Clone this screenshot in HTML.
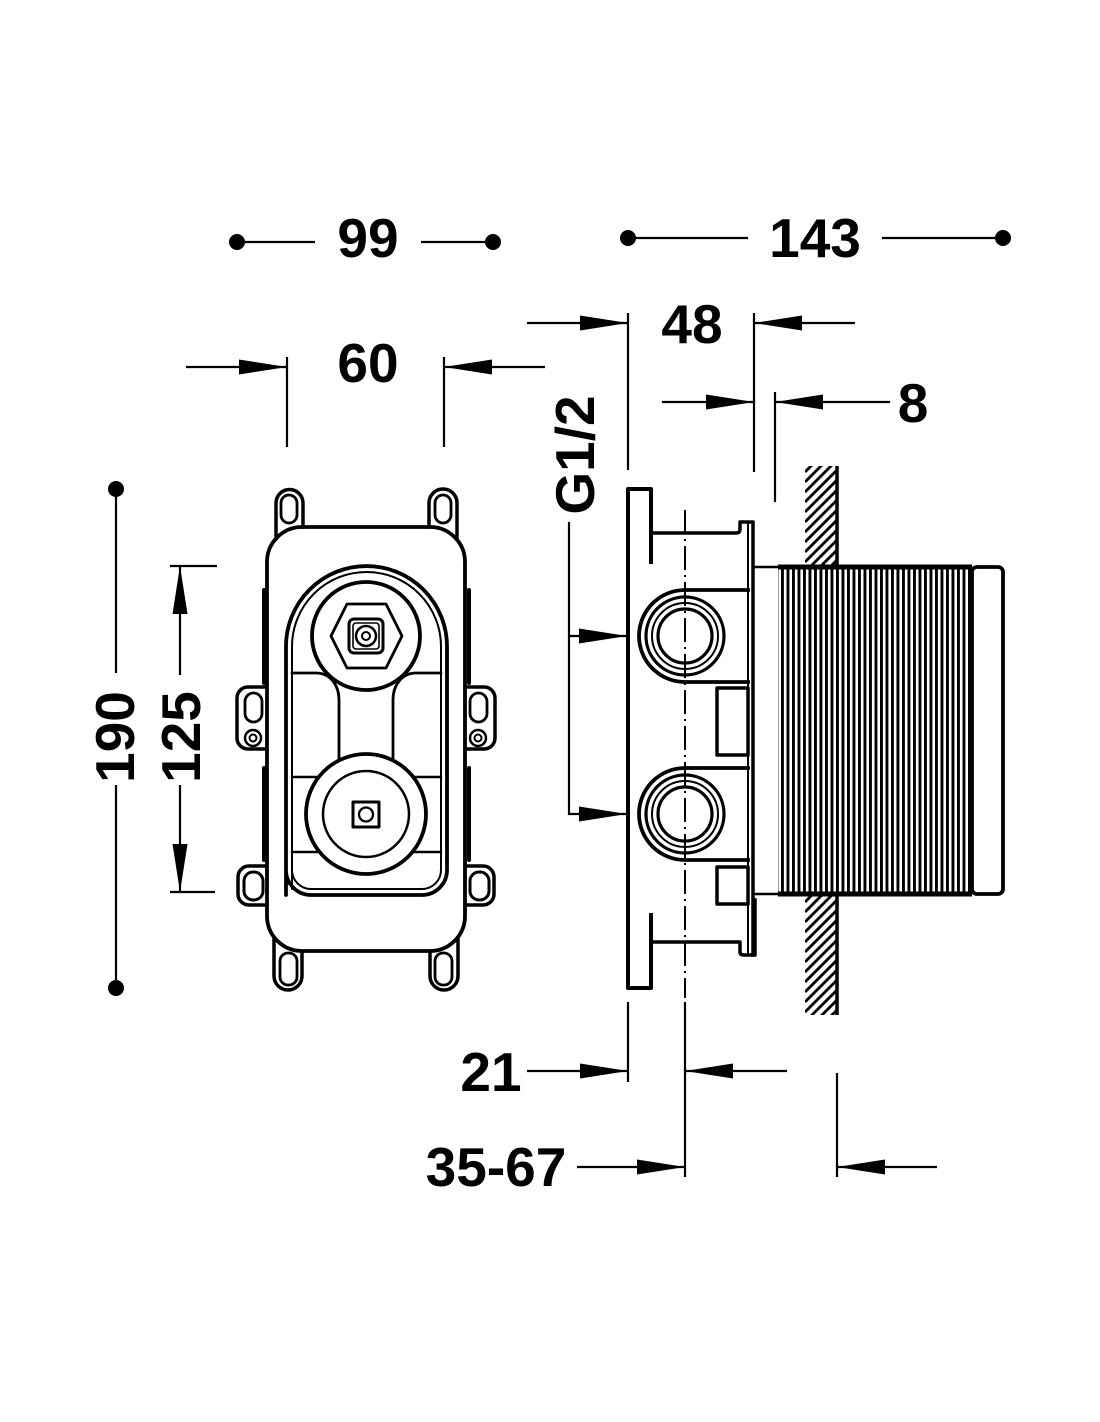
<!DOCTYPE html>
<html>
<head>
<meta charset="utf-8">
<style>
html,body{margin:0;padding:0;background:#fff;}
svg{display:block;}
text{font-family:"Liberation Sans",Arial,sans-serif;font-weight:bold;font-size:55px;fill:#000;}
</style>
</head>
<body>
<svg width="1100" height="1422" viewBox="0 0 1100 1422" xmlns="http://www.w3.org/2000/svg">
<defs>
  <pattern id="thr" x="0" y="0" width="5.5" height="10" patternUnits="userSpaceOnUse">
    <rect x="0" y="0" width="2.9" height="10" fill="#000"/>
  </pattern>
  <clipPath id="hatchTop"><rect x="805" y="466" width="32" height="100"/></clipPath>
  <clipPath id="hatchBot"><rect x="805" y="896" width="32" height="119"/></clipPath>
</defs>

<!-- ============ TOP DIMENSIONS ============ -->
<g stroke="#000" stroke-width="2.2" fill="none">
  <line x1="237" y1="242" x2="315" y2="242"/>
  <line x1="421" y1="242" x2="493" y2="242"/>
  <line x1="628" y1="238" x2="748" y2="238"/>
  <line x1="882" y1="238" x2="1003" y2="238"/>
</g>
<g fill="#000">
  <circle cx="237" cy="242" r="8"/>
  <circle cx="493" cy="242" r="8"/>
  <circle cx="628" cy="238" r="8"/>
  <circle cx="1003" cy="238" r="8"/>
</g>
<text x="368" y="257" text-anchor="middle">99</text>
<text x="815" y="257" text-anchor="middle">143</text>

<!-- 60 -->
<g stroke="#000" stroke-width="2.2" fill="none">
  <line x1="186" y1="367" x2="287" y2="367"/>
  <line x1="444" y1="367" x2="545" y2="367"/>
  <line x1="287" y1="357" x2="287" y2="447"/>
  <line x1="444" y1="357" x2="444" y2="447"/>
</g>
<g fill="#000">
  <polygon points="287,367 239,359.5 239,374.5"/>
  <polygon points="444,367 492,359.5 492,374.5"/>
</g>
<text x="368" y="382" text-anchor="middle">60</text>

<!-- 48 -->
<g stroke="#000" stroke-width="2.2" fill="none">
  <line x1="527" y1="323" x2="628" y2="323"/>
  <line x1="754" y1="323" x2="855" y2="323"/>
  <line x1="628" y1="313" x2="628" y2="470"/>
  <line x1="754" y1="313" x2="754" y2="472"/>
</g>
<g fill="#000">
  <polygon points="628,323 580,315.5 580,330.5"/>
  <polygon points="754,323 802,315.5 802,330.5"/>
</g>
<text x="692" y="343" text-anchor="middle">48</text>

<!-- 8 -->
<g stroke="#000" stroke-width="2.2" fill="none">
  <line x1="662" y1="402" x2="754" y2="402"/>
  <line x1="775" y1="402" x2="890" y2="402"/>
  <line x1="775" y1="392" x2="775" y2="502"/>
</g>
<g fill="#000">
  <polygon points="754,402 706,394.5 706,409.5"/>
  <polygon points="775,402 823,394.5 823,409.5"/>
</g>
<text x="913" y="422" text-anchor="middle">8</text>

<!-- G1/2 -->
<text transform="translate(594,455) rotate(-90)" text-anchor="middle">G1/2</text>
<g stroke="#000" stroke-width="2.2" fill="none">
  <polyline points="569,522 569,814 627,814"/>
  <line x1="569" y1="636" x2="627" y2="636"/>
</g>
<g fill="#000">
  <polygon points="627,636 579,628.5 579,643.5"/>
  <polygon points="627,814 579,806.5 579,821.5"/>
</g>

<!-- ============ LEFT DIMENSIONS ============ -->
<g stroke="#000" stroke-width="2.2" fill="none">
  <line x1="116" y1="489" x2="116" y2="673"/>
  <line x1="116" y1="785" x2="116" y2="988"/>
  <line x1="180" y1="566" x2="180" y2="675"/>
  <line x1="180" y1="785" x2="180" y2="892"/>
  <line x1="170" y1="566" x2="217" y2="566"/>
  <line x1="170" y1="892" x2="215" y2="892"/>
</g>
<g fill="#000">
  <circle cx="116" cy="489" r="8"/>
  <circle cx="116" cy="988" r="8"/>
  <polygon points="180,566 172.5,614 187.5,614"/>
  <polygon points="180,892 172.5,844 187.5,844"/>
</g>
<text transform="translate(134,737) rotate(-90)" text-anchor="middle">190</text>
<text transform="translate(200,737) rotate(-90)" text-anchor="middle">125</text>

<!-- ============ FRONT VIEW ============ -->
<g stroke="#000" fill="#fff" stroke-linejoin="round" stroke-linecap="round">
  <line x1="264" y1="590" x2="264" y2="683" stroke-width="4"/>
  <line x1="264" y1="768" x2="264" y2="860" stroke-width="4"/>
  <line x1="469" y1="590" x2="469" y2="683" stroke-width="4"/>
  <line x1="469" y1="768" x2="469" y2="860" stroke-width="4"/>
  <rect x="237" y="687" width="42" height="62" rx="11" stroke-width="3.5"/>
  <rect x="453" y="687" width="42" height="62" rx="11" stroke-width="3.5"/>
  <rect x="238" y="866" width="40" height="39" rx="11" stroke-width="3.5"/>
  <rect x="454" y="866" width="40" height="39" rx="11" stroke-width="3.5"/>
  <rect x="267" y="527" width="198" height="424" rx="35" stroke-width="3.8"/>
</g>
<g stroke="#000" fill="none" stroke-linejoin="round" stroke-linecap="round">
  <path d="M276,539 L276,503 A13.5,13.5 0 0 1 303,503 L303,527" stroke-width="3.5"/>
  <path d="M429,527 L429,503 A14,14 0 0 1 457,503 L457,540" stroke-width="3.5"/>
  <rect x="281" y="495" width="16" height="28" rx="8" stroke-width="2.8"/>
  <rect x="435" y="495" width="16" height="28" rx="8" stroke-width="2.8"/>
  <path d="M274,937 L274,976 A14,14 0 0 0 302,976 L302,951" stroke-width="3.5"/>
  <path d="M430,951 L430,976 A14,14 0 0 0 458,976 L458,937" stroke-width="3.5"/>
  <rect x="280" y="953" width="17" height="32" rx="8" stroke-width="2.8"/>
  <rect x="435" y="953" width="17" height="32" rx="8" stroke-width="2.8"/>
  <rect x="245" y="693" width="17" height="29" rx="8.5" stroke-width="2.8"/>
  <rect x="470" y="693" width="17" height="29" rx="8.5" stroke-width="2.8"/>
  <circle cx="253" cy="738" r="8" stroke-width="2.5"/>
  <circle cx="253" cy="738" r="3.5" stroke-width="2"/>
  <circle cx="478" cy="738" r="8" stroke-width="2.5"/>
  <circle cx="478" cy="738" r="3.5" stroke-width="2"/>
  <rect x="244" y="872" width="19" height="28" rx="9" stroke-width="3"/>
  <rect x="470" y="872" width="19" height="28" rx="9" stroke-width="3"/>

  <path d="M286,895 L286,646.5 A80.5,80.5 0 0 1 447,646.5 L447,870 A25,25 0 0 1 422,895 L311,895 A25,25 0 0 1 286,870 Z" stroke-width="3.8"/>
  <path d="M292,889 L292,646.5 A74.5,74.5 0 0 1 441,646.5 L441,870 A19,19 0 0 1 422,889 L311,889 A19,19 0 0 1 292,870 Z" stroke-width="2"/>

  <path d="M292,673 L316,673 C330,673 339,685 339,700 L339,762" stroke-width="2.8"/>
  <path d="M441,673 L416,673 C402,673 393,685 393,700 L393,762" stroke-width="2.8"/>
  <line x1="292" y1="777" x2="320" y2="777" stroke-width="2.5"/>
  <line x1="413" y1="777" x2="441" y2="777" stroke-width="2.5"/>
  <line x1="292" y1="852" x2="318" y2="852" stroke-width="2.5"/>
  <line x1="414" y1="852" x2="441" y2="852" stroke-width="2.5"/>
</g>
<g stroke="#000" fill="#fff" stroke-linejoin="round">
  <circle cx="366" cy="636" r="54" stroke-width="3.8"/>
  <polygon points="347,604 386,604 402,636 386,668 347,668 331,636" stroke-width="2.8"/>
  <rect x="349" y="619" width="34" height="34" rx="5" stroke-width="3"/>
  <rect x="353" y="623" width="26" height="26" rx="3" stroke-width="1.6"/>
  <circle cx="366" cy="636" r="10" stroke-width="2.5"/>
  <circle cx="366" cy="636" r="4" stroke-width="2"/>
  <circle cx="366" cy="814" r="60" stroke-width="3.8"/>
  <circle cx="366" cy="814" r="43" stroke-width="2.5"/>
  <rect x="353" y="802" width="26" height="25" stroke-width="3"/>
  <circle cx="366" cy="814.5" r="7" stroke-width="2.3"/>
</g>

<!-- ============ SIDE VIEW ============ -->
<g stroke="#000" stroke-width="2.8" clip-path="url(#hatchTop)">
  <line x1="805" y1="462" x2="837" y2="430"/>
  <line x1="805" y1="472" x2="837" y2="440"/>
  <line x1="805" y1="482" x2="837" y2="450"/>
  <line x1="805" y1="492" x2="837" y2="460"/>
  <line x1="805" y1="502" x2="837" y2="470"/>
  <line x1="805" y1="512" x2="837" y2="480"/>
  <line x1="805" y1="522" x2="837" y2="490"/>
  <line x1="805" y1="532" x2="837" y2="500"/>
  <line x1="805" y1="542" x2="837" y2="510"/>
  <line x1="805" y1="552" x2="837" y2="520"/>
  <line x1="805" y1="562" x2="837" y2="530"/>
  <line x1="805" y1="572" x2="837" y2="540"/>
  <line x1="805" y1="582" x2="837" y2="550"/>
  <line x1="805" y1="592" x2="837" y2="560"/>
</g>
<g stroke="#000" stroke-width="2.8" clip-path="url(#hatchBot)">
  <line x1="805" y1="902" x2="837" y2="870"/>
  <line x1="805" y1="912" x2="837" y2="880"/>
  <line x1="805" y1="922" x2="837" y2="890"/>
  <line x1="805" y1="932" x2="837" y2="900"/>
  <line x1="805" y1="942" x2="837" y2="910"/>
  <line x1="805" y1="952" x2="837" y2="920"/>
  <line x1="805" y1="962" x2="837" y2="930"/>
  <line x1="805" y1="972" x2="837" y2="940"/>
  <line x1="805" y1="982" x2="837" y2="950"/>
  <line x1="805" y1="992" x2="837" y2="960"/>
  <line x1="805" y1="1002" x2="837" y2="970"/>
  <line x1="805" y1="1012" x2="837" y2="980"/>
  <line x1="805" y1="1022" x2="837" y2="990"/>
  <line x1="805" y1="1032" x2="837" y2="1000"/>
  <line x1="805" y1="1042" x2="837" y2="1010"/>
</g>
<g stroke="#000" stroke-width="3.5">
  <line x1="837" y1="466" x2="837" y2="567"/>
  <line x1="837" y1="895" x2="837" y2="1015"/>
</g>

<rect x="778" y="567" width="194" height="327" fill="url(#thr)"/>
<g stroke="#000" fill="none" stroke-linejoin="round">
  <line x1="753" y1="567" x2="778" y2="567" stroke-width="2.5"/>
  <line x1="753" y1="894" x2="778" y2="894" stroke-width="2.5"/>
  <line x1="778" y1="567" x2="972" y2="567" stroke-width="5"/>
  <line x1="778" y1="894" x2="972" y2="894" stroke-width="5"/>
  <rect x="972" y="567" width="31" height="327" rx="5" stroke-width="3.8" fill="#fff"/>
</g>

<g stroke="#000" fill="none" stroke-linejoin="round" stroke-linecap="square">
  <path d="M651,562 L651,489 L628,489 L628,988 L651,988 L651,915" stroke-width="4"/>
  <path d="M651,533 L736,533 Q740,533 740,529 L740,522 L753,522 L753,955" stroke-width="3.5"/>
  <line x1="748" y1="522" x2="748" y2="953" stroke-width="2"/>
  <path d="M651,942 L740,942 L740,952 Q740,955 744,955 L755,955 L755,900" stroke-width="3.5"/>
  <path d="M748,590 L685,590 A46,46 0 0 0 685,682 L748,682" stroke-width="3.8"/>
  <path d="M748,768 L685,768 A46,46 0 0 0 685,860 L748,860" stroke-width="3.8"/>
  <rect x="717" y="688" width="31" height="67" stroke-width="3.5"/>
  <rect x="717" y="867" width="31" height="37" stroke-width="3.5"/>
</g>
<g stroke="#000" fill="none">
  <circle cx="685" cy="636" r="39" stroke-width="3.2"/>
  <circle cx="685" cy="636" r="33" stroke-width="2"/>
  <circle cx="685" cy="636" r="27" stroke-width="3.2"/>
  <circle cx="685" cy="814" r="39" stroke-width="3.2"/>
  <circle cx="685" cy="814" r="33" stroke-width="2"/>
  <circle cx="685" cy="814" r="27" stroke-width="3.2"/>
</g>

<line x1="685" y1="510" x2="685" y2="998" stroke="#000" stroke-width="2" stroke-dasharray="24,5,2,5"/>

<!-- ============ BOTTOM DIMENSIONS ============ -->
<g stroke="#000" stroke-width="2.2" fill="none">
  <line x1="628" y1="1002" x2="628" y2="1082"/>
  <line x1="685" y1="1002" x2="685" y2="1177"/>
  <line x1="837" y1="1073" x2="837" y2="1177"/>
  <line x1="527" y1="1071" x2="628" y2="1071"/>
  <line x1="685" y1="1071" x2="787" y2="1071"/>
  <line x1="577" y1="1167" x2="685" y2="1167"/>
  <line x1="837" y1="1167" x2="937" y2="1167"/>
</g>
<g fill="#000">
  <polygon points="628,1071 580,1063.5 580,1078.5"/>
  <polygon points="685,1071 733,1063.5 733,1078.5"/>
  <polygon points="685,1167 637,1159.5 637,1174.5"/>
  <polygon points="837,1167 885,1159.5 885,1174.5"/>
</g>
<text x="491" y="1091" text-anchor="middle">21</text>
<text x="496" y="1186" text-anchor="middle">35-67</text>
</svg>
</body>
</html>
